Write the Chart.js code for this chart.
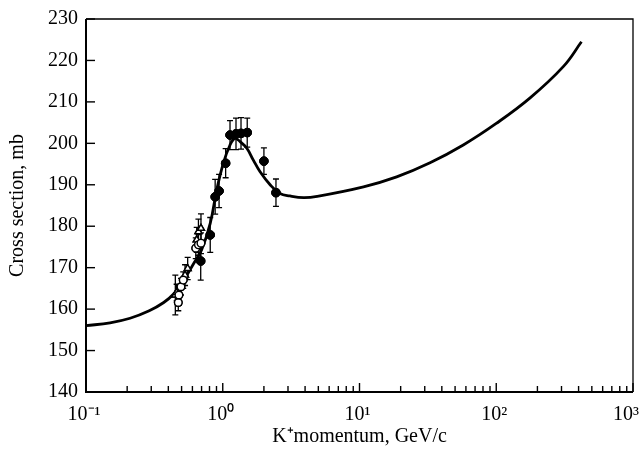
<!DOCTYPE html>
<html><head><meta charset="utf-8">
<script src="https://cdn.jsdelivr.net/npm/chart.js@4.4.1/dist/chart.umd.min.js"></script>
<style>html,body{margin:0;padding:0;background:#fff;}#wrap{width:642px;height:452px;}</style>
</head><body><div id="wrap"><canvas id="c" width="642" height="452"></canvas></div>
<script>
// Fitted curve (K+ momentum GeV/c, cross section mb)
const curveMomentum = [0.1, 0.15, 0.21, 0.29, 0.37, 0.435, 0.515, 0.61, 0.70, 0.81, 0.90, 1.01, 1.13, 1.23, 1.34, 1.5, 1.67, 1.87, 2.22, 2.62, 3.1, 3.9, 4.9, 10.7, 18.7, 32.8, 57.4, 100, 176, 309, 420];
const curveSigma    = [156.0, 156.7, 157.8, 159.6, 161.6, 163.6, 166.8, 170.9, 174.3, 180.7, 188.5, 195.2, 199.6, 201.2, 200.4, 198.8, 196.0, 193.2, 190.0, 187.9, 187.3, 186.9, 187.2, 189.5, 191.9, 195.3, 199.6, 204.8, 210.9, 218.5, 224.5];

// Filled circles
const filledMomentum = [0.69, 0.81, 0.88, 0.94, 1.05, 1.13, 1.25, 1.36, 1.51, 2.0, 2.45];
const filledSigma    = [171.6, 177.9, 187.1, 188.5, 195.2, 202.0, 202.3, 202.4, 202.6, 195.7, 188.1];
const filledError    = [4.6, 4.2, 4.2, 4.0, 3.5, 3.5, 3.8, 3.8, 3.5, 3.2, 3.3];

// Open circles
const openCircleMomentum = [0.473, 0.478, 0.495, 0.514, 0.635, 0.664, 0.693];
const openCircleSigma    = [161.6, 163.4, 165.4, 167.0, 174.7, 175.5, 175.9];
const openCircleError    = [2.0, 2.5, 2.0, 2.0, 2.5, 2.5, 2.5];

// Open triangles
const openTriMomentum = [0.45, 0.46, 0.53, 0.554, 0.645, 0.664, 0.693];
const openTriSigma    = [163.4, 164.0, 168.2, 169.8, 176.7, 178.7, 179.5];
const openTriError    = [4.8, 2.0, 2.5, 2.7, 3.0, 3.0, 3.5];

const xDecades = [0.1, 1, 10, 100, 1000];
const xDecadeLabels = ['10\u207B\u00B9', '10\u2070', '10\u00B9', '10\u00B2', '10\u00B3  '];
const yMin = 140, yMax = 230, yStep = 10;

const toPts = (xs, ys) => xs.map((x, i) => ({x: x, y: ys[i]}));
const errorsByDataset = [filledError, openCircleError, openTriError];

const FONT = 'Liberation Serif';

const errorBarPlugin = {
  id: 'errorBars',
  afterDatasetsDraw(chart) {
    const ctx = chart.ctx, xs = chart.scales.x, ys = chart.scales.y;
    ctx.save();
    ctx.strokeStyle = '#000';
    ctx.lineWidth = 1.3;
    errorsByDataset.forEach((errs, di) => {
      const data = chart.data.datasets[di].data;
      data.forEach((p, i) => {
        const px = xs.getPixelForValue(p.x);
        const y1 = ys.getPixelForValue(p.y + errs[i]);
        const y2 = ys.getPixelForValue(p.y - errs[i]);
        ctx.beginPath();
        ctx.moveTo(px, y1); ctx.lineTo(px, y2);
        ctx.moveTo(px - 3, y1); ctx.lineTo(px + 3, y1);
        ctx.moveTo(px - 3, y2); ctx.lineTo(px + 3, y2);
        ctx.stroke();
      });
    });
    ctx.restore();
    [2, 1, 0].forEach(di => {
      const meta = chart.getDatasetMeta(di);
      meta.data.forEach(el => el.draw(ctx, chart.chartArea));
    });
  }
};

const framePlugin = {
  id: 'frame',
  afterDraw(chart) {
    const ctx = chart.ctx, a = chart.chartArea, xs = chart.scales.x, ys = chart.scales.y;
    ctx.save();
    ctx.strokeStyle = '#000';
    ctx.lineWidth = 1.4;
    xs.ticks.forEach(t => {
      const px = xs.getPixelForValue(t.value);
      const lg = Math.log10(t.value);
      const major = Math.abs(lg - Math.round(lg)) < 1e-6;
      const len = major ? 9 : 6;
      ctx.beginPath(); ctx.moveTo(px, a.bottom); ctx.lineTo(px, a.bottom - len); ctx.stroke();
    });
    ys.ticks.forEach(t => {
      const py = ys.getPixelForValue(t.value);
      ctx.beginPath(); ctx.moveTo(a.left, py); ctx.lineTo(a.left + 9, py); ctx.stroke();
    });
    ctx.lineWidth = 1.3;
    ctx.beginPath();
    ctx.moveTo(a.left, a.top); ctx.lineTo(a.right, a.top); ctx.lineTo(a.right, a.bottom);
    ctx.stroke();
    ctx.lineWidth = 2;
    ctx.beginPath();
    ctx.moveTo(a.left, a.top); ctx.lineTo(a.left, a.bottom); ctx.lineTo(a.right, a.bottom);
    ctx.stroke();
    ctx.restore();
  }
};

new Chart(document.getElementById('c'), {
  type: 'scatter',
  data: {
    datasets: [
      { label: 'filled', data: toPts(filledMomentum, filledSigma), pointStyle: 'circle', pointRadius: 4.3,
        backgroundColor: '#000', borderColor: '#000', borderWidth: 1, showLine: false },
      { label: 'open circles', data: toPts(openCircleMomentum, openCircleSigma), pointStyle: 'circle', pointRadius: 3.8,
        backgroundColor: '#fff', borderColor: '#000', borderWidth: 1.4, showLine: false },
      { label: 'open triangles', data: toPts(openTriMomentum, openTriSigma), pointStyle: 'triangle', pointRadius: 4,
        backgroundColor: '#fff', borderColor: '#000', borderWidth: 1.4, showLine: false },
      { label: 'fit', data: toPts(curveMomentum, curveSigma), showLine: true, pointRadius: 0,
        borderColor: '#000', borderWidth: 2.8, tension: 0.4, fill: false }
    ]
  },
  options: {
    responsive: false,
    animation: false,
    events: [],
    layout: { padding: { left: 0, right: 9, top: 19, bottom: 0 } },
    plugins: { legend: { display: false }, tooltip: { enabled: false } },
    scales: {
      x: {
        type: 'logarithmic', min: 0.1, max: 1000,
        grid: { display: false, drawTicks: false },
        border: { display: false },
        afterBuildTicks(scale) {
          const t = [];
          for (let e = -1; e < 3; e++) {
            for (let m = 1; m < 10; m++) t.push({ value: m * Math.pow(10, e) });
          }
          t.push({ value: 1000 });
          scale.ticks = t;
        },
        afterFit(scale) { scale.height = 60; scale.paddingLeft = 0; scale.paddingRight = 0; },
        ticks: {
          autoSkip: false, maxRotation: 0, padding: 11, color: '#000', labelOffset: -2,
          font: { family: FONT, size: 20 },
          callback(v) {
            const i = xDecades.findIndex(d => Math.abs(d - v) / d < 1e-6);
            return i >= 0 ? xDecadeLabels[i] : '';
          }
        },
        title: { display: true, text: 'K\u207Amomentum, GeV/c', color: '#000',
          font: { family: FONT, size: 20 }, padding: { top: 0, bottom: 3 } }
      },
      y: {
        min: yMin, max: yMax,
        grid: { display: false, drawTicks: false },
        border: { display: false },
        afterFit(scale) { scale.width = 86; scale.paddingTop = 0; scale.paddingBottom = 0; },
        ticks: { stepSize: yStep, padding: 8, color: '#000', font: { family: FONT, size: 20 } },
        title: { display: true, text: 'Cross section, mb', color: '#000',
          font: { family: FONT, size: 20 }, padding: { top: 6, bottom: 0 } }
      }
    }
  },
  plugins: [errorBarPlugin, framePlugin]
});
</script></body></html>
